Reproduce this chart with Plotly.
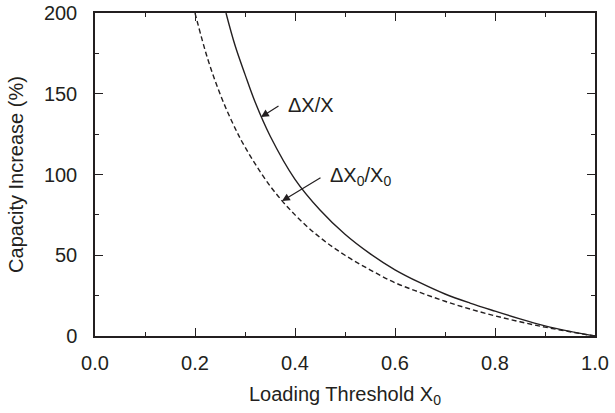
import plotly.graph_objects as go

# Solid curve: ΔX/X
x_solid = [0.262, 0.28, 0.30, 0.32, 0.35, 0.40, 0.45, 0.50, 0.55, 0.60, 0.65, 0.70, 0.75, 0.80, 0.85, 0.90, 0.95, 1.00]
y_solid = [200, 180, 162, 145, 124, 97, 78, 63, 51, 41, 33, 26, 20.4, 15.4, 10.6, 6.3, 2.9, 0]

# Dashed curve: ΔX0/X0
x_dash = [0.20, 0.225, 0.25, 0.275, 0.30, 0.35, 0.40, 0.45, 0.50, 0.55, 0.60, 0.65, 0.70, 0.75, 0.80, 0.85, 0.90, 0.95, 1.00]
y_dash = [200, 172, 150, 132, 117, 93, 75, 61, 50, 41, 33, 27, 21.5, 16.7, 12.5, 8.8, 5.5, 2.6, 0]

x_ticks = [0.0, 0.2, 0.4, 0.6, 0.8, 1.0]
x_ticklabels = ["0.0", "0.2", "0.4", "0.6", "0.8", "1.0"]
y_ticks = [0, 50, 100, 150, 200]

INK = "#231f20"
FONT = "Liberation Sans, Arial, Helvetica, sans-serif"

fig = go.Figure()
fig.add_trace(go.Scatter(x=x_solid, y=y_solid, mode="lines", line=dict(color=INK, width=1.4, shape="spline"),
                         showlegend=False, hoverinfo="skip"))
fig.add_trace(go.Scatter(x=x_dash, y=y_dash, mode="lines", line=dict(color=INK, width=1.4, dash="5px,3px", shape="spline"),
                         showlegend=False, hoverinfo="skip"))

# arrows (tip -> tail in data coords)
arrows = [
    dict(tip=(0.332, 135.6), tail=(0.370, 143.0)),
    dict(tip=(0.374, 83.6), tail=(0.454, 98.5)),
]
for a in arrows:
    fig.add_annotation(x=a["tip"][0], y=a["tip"][1], ax=a["tail"][0], ay=a["tail"][1],
                       xref="x", yref="y", axref="x", ayref="y", text="", showarrow=True,
                       arrowhead=2, arrowsize=1.3, arrowwidth=1.2, arrowcolor=INK)

fig.add_annotation(x=0.382, y=143, xref="x", yref="y", text="ΔX/X", showarrow=False,
                   xanchor="left", yanchor="middle", font=dict(size=20, color=INK, family=FONT))
fig.add_annotation(x=0.466, y=99, xref="x", yref="y", text="ΔX<sub>0</sub>/X<sub>0</sub>", showarrow=False,
                   xanchor="left", yanchor="middle", font=dict(size=20, color=INK, family=FONT))

fig.update_xaxes(range=[0, 1], tickvals=x_ticks, ticktext=x_ticklabels, ticks="inside", ticklen=8, tickwidth=1.3,
                 tickcolor=INK, showline=True, linecolor=INK, linewidth=1.5, mirror="ticks", showgrid=False,
                 zeroline=False, minor=dict(dtick=0.1, ticks="inside", ticklen=4, tickwidth=1.3, tickcolor=INK, showgrid=False),
                 tickfont=dict(size=20, color=INK, family=FONT), ticklabelstandoff=8,
                 title=dict(text="Loading Threshold X<sub>0</sub>", font=dict(size=20, color=INK, family=FONT), standoff=14))
fig.update_yaxes(range=[0, 200], tickvals=y_ticks, ticks="inside", ticklen=8, tickwidth=1.3,
                 tickcolor=INK, showline=True, linecolor=INK, linewidth=1.5, mirror="ticks", showgrid=False,
                 zeroline=False, minor=dict(dtick=25, ticks="inside", ticklen=4, tickwidth=1.3, tickcolor=INK, showgrid=False),
                 tickfont=dict(size=20, color=INK, family=FONT), ticklabelstandoff=12,
                 title=dict(text="Capacity Increase (%)", font=dict(size=20, color=INK, family=FONT), standoff=15))

fig.update_layout(width=615, height=413, margin=dict(l=95, r=20, t=13, b=77, autoexpand=False),
                  plot_bgcolor="white", paper_bgcolor="white")

fig.write_html("out.html", config={"displayModeBar": False},
               post_script="document.body.style.margin='0px';document.body.style.padding='0px';"
                           "document.documentElement.style.overflow='hidden';document.body.style.overflow='hidden';")
